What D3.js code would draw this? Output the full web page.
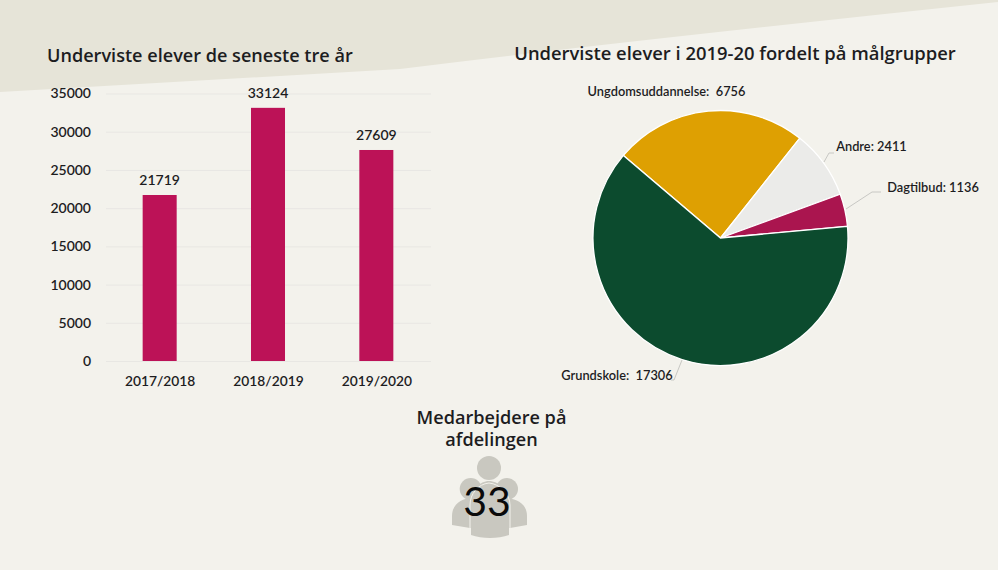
<!DOCTYPE html>
<html><head><meta charset="utf-8">
<script src="https://cdn.jsdelivr.net/npm/d3@7"></script>
<style>
html,body{margin:0;padding:0;background:#f3f2ec}
svg{display:block}
text{font-family:Lato,sans-serif;fill:#1d1d1f}
.title{font-family:"Open Sans",Lato,sans-serif;font-weight:600;font-size:18.1px}
.lab{font-size:13.5px;font-weight:500}
</style></head><body>
<svg id="c" width="998" height="570"></svg>
<script>
const years=["2017/2018","2018/2019","2019/2020"];
const pupils=[21719,33124,27609];
const yTicks=[0,5000,10000,15000,20000,25000,30000,35000];
const groups=["Ungdomsuddannelse","Andre","Dagtilbud","Grundskole"];
const groupValues=[6756,2411,1136,17306];
const groupColors=["#dea002","#ebebe9","#aa154f","#0c4b2e"];
const staffCount=33;

const svg=d3.select("#c");
svg.append("path").attr("d","M0,0H998V2Q590,45 400,69L0,92Z").attr("fill","#e6e4d8");

// bar chart
const x=d3.scaleBand().domain(years).range([106,431]).paddingInner(0.686).paddingOuter(0.343);
const y=d3.scaleLinear().domain([0,35000]).range([361,93.5]);
svg.append("text").attr("class","title").attr("x",47).attr("y",62).text("Underviste elever de seneste tre år");
const ay=svg.append("g").attr("transform","translate(106,0)").call(d3.axisLeft(y).tickValues(yTicks).tickSize(-325).tickPadding(15).tickFormat(d3.format("d")));
ay.select(".domain").remove();
ay.selectAll("line").attr("stroke","#e8e7e3").attr("stroke-width",1);
ay.selectAll("text").attr("class","lab").style("font-size","14px").style("font-weight","600").attr("fill","#1d1d1f");
svg.selectAll(".bar").data(pupils).join("rect").attr("class","bar")
 .attr("x",(d,i)=>x(years[i])-0.5).attr("width",x.bandwidth())
 .attr("y",d=>y(d)).attr("height",d=>y(0)-y(d)).attr("fill","#bc1257");
svg.selectAll(".bv").data(pupils).join("text").attr("class","lab").style("font-size","14px").style("font-weight","600")
 .attr("text-anchor","middle").attr("x",(d,i)=>x(years[i])+x.bandwidth()/2-0.5).attr("y",d=>y(d)-10).text(d=>d);
const ax=svg.append("g").attr("transform","translate(0,361)").call(d3.axisBottom(x).tickSize(0).tickPadding(15));
ax.select(".domain").remove();
ax.selectAll("text").attr("class","lab").style("font-size","13.8px").style("font-weight","600").attr("fill","#1d1d1f");

// pie
svg.append("text").attr("class","title").attr("text-anchor","middle").attr("x",735).attr("y",60).style("font-size","18.4px").text("Underviste elever i 2019-20 fordelt på målgrupper");
const cx=720.5,cy=238,R=127.5;
const pie=d3.pie().sort(null).startAngle(-0.866).endAngle(-0.866+2*Math.PI)(groupValues);
const arc=d3.arc().innerRadius(0).outerRadius(R);
const g=svg.append("g").attr("transform",`translate(${cx},${cy})`);
g.selectAll("path").data(pie).join("path").attr("d",arc)
 .attr("fill",(d,i)=>groupColors[i]).attr("stroke","#fff").attr("stroke-width",1.3);

// pie labels
const labelAt=[[666.5,96],[871.5,151],[933,192],[617,380]];
groupValues.forEach((v,i)=>{
 svg.append("text").attr("class","lab").style("font-size","12.8px").style("font-weight","600").attr("text-anchor","middle")
  .attr("x",labelAt[i][0]).attr("y",labelAt[i][1]).style("white-space","pre")
  .text(`${groups[i]}:${i==2||i==1?" ":"  "}${v}`);
});
const leaders=[
 [[824,162],[829,153],[834,153]],
 [[846,209],[872,192],[881,192]],
 [[682,360],[674,380],[671,380]]
];
leaders.forEach(p=>svg.append("path").attr("d",d3.line()(p)).attr("fill","none").attr("stroke","#c8c8c4"));

// staff block
const t=svg.append("text").attr("class","title").attr("text-anchor","middle");
t.append("tspan").attr("x",491.5).attr("y",424).text("Medarbejdere på");
t.append("tspan").attr("x",491.5).attr("y",446).text("afdelingen");
const ic=svg.append("g").attr("fill","#c9c8c0");
[[470.7,489,11],[507,489,11],[489,468,12]].forEach(c=>ic.append("circle").attr("cx",c[0]).attr("cy",c[1]).attr("r",c[2]));
ic.append("path").attr("d","M452,525V516C452,504 462,498 472,498H505C517,498 527,504 527,516V525L510,528H470Z");
ic.append("path").attr("d","M471,535V503C471,490 480,481 489,481C498,481 509,490 509,503V535C498,539 482,539 471,535Z");
svg.append("path").attr("d","M470,536V505C470,494 478,484 489,483C500,484 510,494 510,505V536").attr("fill","none").attr("stroke","#f3f2ec").attr("stroke-width",1);
svg.append("text").attr("text-anchor","middle").attr("x",487).attr("y",516).style("font-size","41px").style("fill","#0a0a0a").text(staffCount);
</script></body></html>
